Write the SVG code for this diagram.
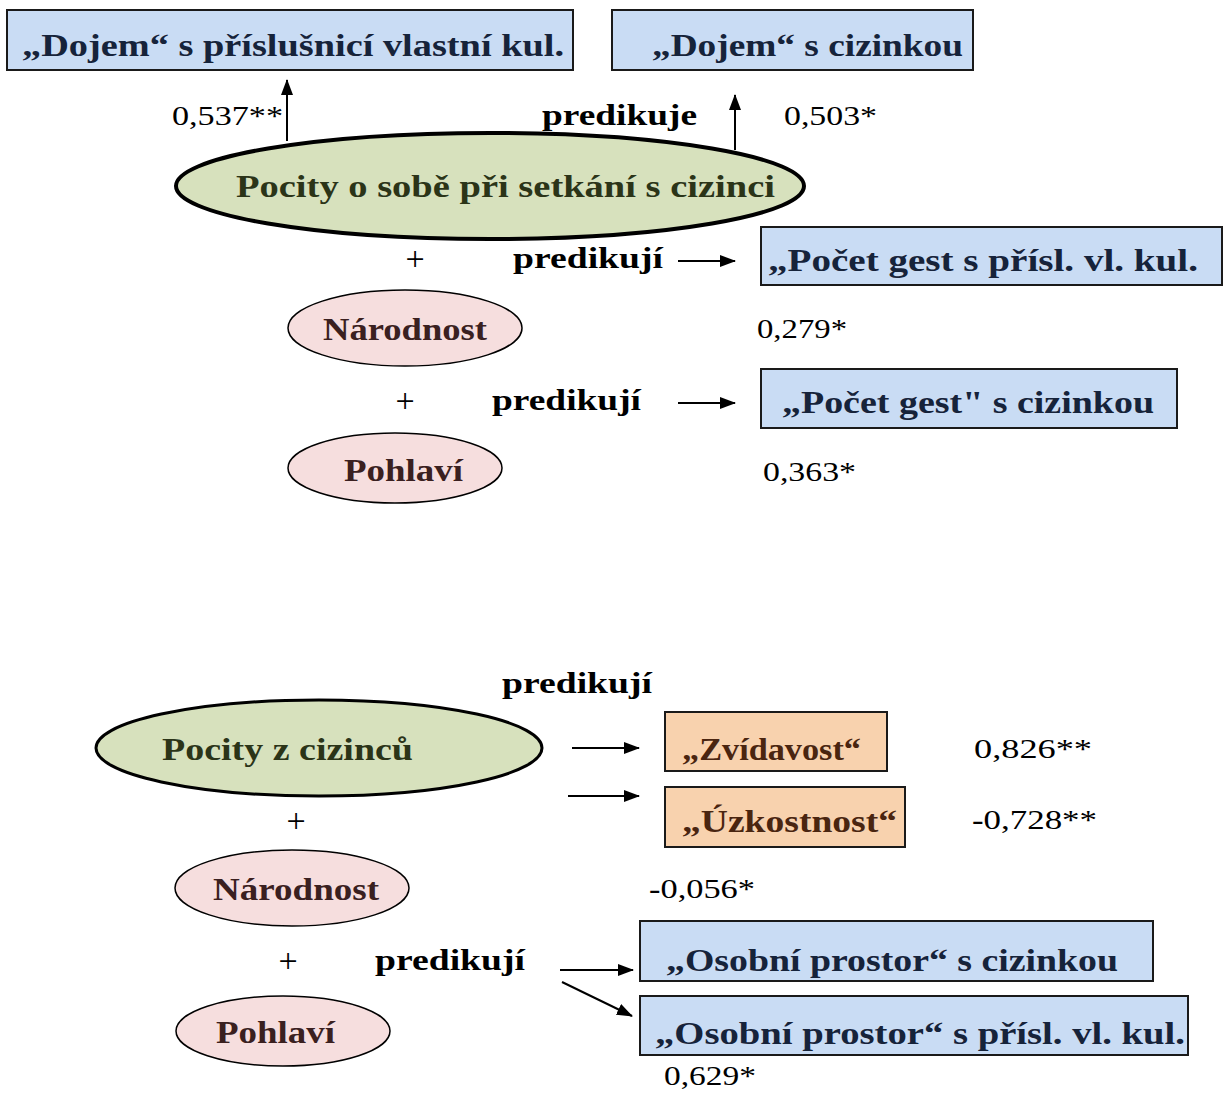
<svg xmlns="http://www.w3.org/2000/svg" width="1223" height="1115" viewBox="0 0 1223 1115">
<style>
  .bx{fill:#c9dcf4;stroke:#1a1a1a;stroke-width:2}
  .ob{fill:#f8d2ae;stroke:#1a1a1a;stroke-width:2}
  .ge{fill:#d7e1bd;stroke:#000;stroke-width:4}
  .pe{fill:#f6dede;stroke:#000;stroke-width:1.5}
  text{font-family:"Liberation Serif","Times New Roman",serif;font-size:28px}
  .b{font-weight:bold;font-size:30px}
  .tb{font-weight:bold;fill:#16233a;font-size:31px}
  .tg{font-weight:bold;fill:#2b3418;font-size:31px}
  .tp{font-weight:bold;fill:#3a2020;font-size:31px}
  .to{font-weight:bold;fill:#4a2510;font-size:31px}
  .n{fill:#000}
  .pl{font-size:34px}
  .ln{stroke:#000;stroke-width:2;fill:none}
</style>
<defs>
  <marker id="ah" markerWidth="16" markerHeight="12" refX="15" refY="6" orient="auto" markerUnits="userSpaceOnUse">
    <path d="M0,0 L16,6 L0,12 Z" fill="#000"/>
  </marker>
</defs>

<g id="connectors">
  <line class="ln" x1="287" y1="141" x2="287" y2="80" marker-end="url(#ah)"/>
  <line class="ln" x1="735" y1="150" x2="735" y2="95" marker-end="url(#ah)"/>
  <line class="ln" x1="678" y1="261" x2="735" y2="261" marker-end="url(#ah)"/>
  <line class="ln" x1="678" y1="403" x2="735" y2="403" marker-end="url(#ah)"/>
  <line class="ln" x1="572" y1="748" x2="639" y2="748" marker-end="url(#ah)"/>
  <line class="ln" x1="568" y1="796" x2="639" y2="796" marker-end="url(#ah)"/>
  <line class="ln" x1="560" y1="970" x2="633" y2="970" marker-end="url(#ah)"/>
  <line class="ln" x1="562" y1="982" x2="632" y2="1016" marker-end="url(#ah)"/>
</g>

<g id="n-dojem-vl">
  <rect class="bx" x="7" y="10" width="566" height="60"/>
  <text class="tb" x="22" y="56" textLength="542" lengthAdjust="spacingAndGlyphs">„Dojem“ s příslušnicí vlastní kul.</text>
</g>
<g id="n-dojem-ciz">
  <rect class="bx" x="612" y="10" width="361" height="60"/>
  <text class="tb" x="652" y="56" textLength="311" lengthAdjust="spacingAndGlyphs">„Dojem“ s cizinkou</text>
</g>
<text class="n" x="172" y="125" textLength="111" lengthAdjust="spacingAndGlyphs">0,537**</text>
<text class="b" x="542" y="125" textLength="155" lengthAdjust="spacingAndGlyphs">predikuje</text>
<text class="n" x="784" y="125" textLength="93" lengthAdjust="spacingAndGlyphs">0,503*</text>

<g id="n-pocity-sobe">
  <ellipse class="ge" cx="490" cy="186" rx="314" ry="53"/>
  <text class="tg" x="236" y="197" textLength="539" lengthAdjust="spacingAndGlyphs">Pocity o sobě při setkání s cizinci</text>
</g>
<text class="n pl" x="415" y="270" text-anchor="middle">+</text>
<text class="b" x="513" y="268" textLength="150" lengthAdjust="spacingAndGlyphs">predikují</text>
<g id="n-pocet-vl">
  <rect class="bx" x="761" y="227" width="461" height="58"/>
  <text class="tb" x="768" y="271" textLength="430" lengthAdjust="spacingAndGlyphs">„Počet gest s přísl. vl. kul.</text>
</g>
<g id="n-narodnost1">
  <ellipse class="pe" cx="405" cy="328" rx="117" ry="38"/>
  <text class="tp" x="323" y="340" textLength="164" lengthAdjust="spacingAndGlyphs">Národnost</text>
</g>
<text class="n" x="757" y="338" textLength="90" lengthAdjust="spacingAndGlyphs">0,279*</text>
<text class="n pl" x="405" y="412" text-anchor="middle">+</text>
<text class="b" x="492" y="410" textLength="149" lengthAdjust="spacingAndGlyphs">predikují</text>
<g id="n-pocet-ciz">
  <rect class="bx" x="761" y="369" width="416" height="59"/>
  <text class="tb" x="782" y="413" textLength="372" lengthAdjust="spacingAndGlyphs">„Počet gest" s cizinkou</text>
</g>
<g id="n-pohlavi1">
  <ellipse class="pe" cx="395" cy="468" rx="107" ry="35"/>
  <text class="tp" x="344" y="481" textLength="119" lengthAdjust="spacingAndGlyphs">Pohlaví</text>
</g>
<text class="n" x="763" y="481" textLength="93" lengthAdjust="spacingAndGlyphs">0,363*</text>

<text class="b" x="502" y="693" textLength="150" lengthAdjust="spacingAndGlyphs">predikují</text>
<g id="n-pocity-ciz">
  <ellipse class="ge" cx="319" cy="748" rx="223" ry="48" style="stroke-width:3"/>
  <text class="tg" x="162" y="760" textLength="251" lengthAdjust="spacingAndGlyphs">Pocity z cizinců</text>
</g>
<g id="n-zvidavost">
  <rect class="ob" x="665" y="712" width="222" height="59"/>
  <text class="to" x="682" y="760" textLength="179" lengthAdjust="spacingAndGlyphs">„Zvídavost“</text>
</g>
<g id="n-uzkostnost">
  <rect class="ob" x="665" y="787" width="240" height="60"/>
  <text class="to" x="682" y="832" textLength="215" lengthAdjust="spacingAndGlyphs">„Úzkostnost“</text>
</g>
<text class="n" x="974" y="758" textLength="118" lengthAdjust="spacingAndGlyphs">0,826**</text>
<text class="n" x="972" y="829" textLength="125" lengthAdjust="spacingAndGlyphs"><tspan font-weight="bold">-</tspan>0,728**</text>
<text class="n pl" x="296" y="832" text-anchor="middle">+</text>
<g id="n-narodnost2">
  <ellipse class="pe" cx="292" cy="888" rx="117" ry="38"/>
  <text class="tp" x="213" y="900" textLength="166" lengthAdjust="spacingAndGlyphs">Národnost</text>
</g>
<text class="n" x="649" y="898" textLength="106" lengthAdjust="spacingAndGlyphs"><tspan font-weight="bold">-</tspan>0,056*</text>
<text class="n pl" x="288" y="972" text-anchor="middle">+</text>
<text class="b" x="375" y="970" textLength="150" lengthAdjust="spacingAndGlyphs">predikují</text>
<g id="n-osobni-ciz">
  <rect class="bx" x="640" y="921" width="513" height="60"/>
  <text class="tb" x="666" y="971" textLength="452" lengthAdjust="spacingAndGlyphs">„Osobní prostor“ s cizinkou</text>
</g>
<g id="n-osobni-vl">
  <rect class="bx" x="640" y="996" width="548" height="59"/>
  <text class="tb" x="655" y="1044" textLength="530" lengthAdjust="spacingAndGlyphs">„Osobní prostor“ s přísl. vl. kul.</text>
</g>
<g id="n-pohlavi2">
  <ellipse class="pe" cx="283" cy="1031" rx="107" ry="35"/>
  <text class="tp" x="216" y="1043" textLength="119" lengthAdjust="spacingAndGlyphs">Pohlaví</text>
</g>
<text class="n" x="664" y="1085" textLength="92" lengthAdjust="spacingAndGlyphs">0,629*</text>
</svg>
